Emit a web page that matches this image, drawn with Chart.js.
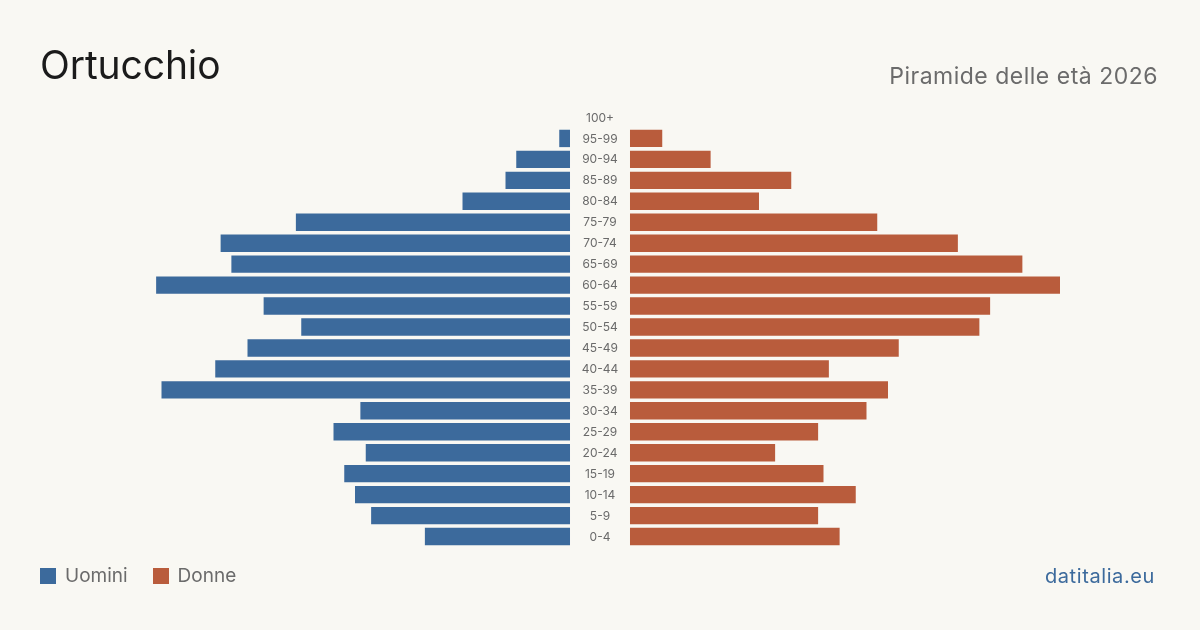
<!DOCTYPE html>
<html><head><meta charset="utf-8">
<script src="https://cdn.jsdelivr.net/npm/chart.js@4/dist/chart.umd.min.js"></script>
<style>
html,body{margin:0;padding:0;background:#f9f8f3;width:1200px;height:630px;overflow:hidden;font-family:Inter,"Noto Sans",sans-serif;}
#wrap{position:relative;width:1200px;height:630px;}
#title{position:absolute;left:40px;top:39px;font-size:39px;color:#1b1b1b;line-height:52px;letter-spacing:-0.1px;}
#sub{position:absolute;right:42px;top:60px;font-size:23px;color:#6b6b6b;line-height:32px;letter-spacing:0.5px;}
#legend{position:absolute;left:40px;top:564px;font-size:19px;color:#6b6b6b;display:flex;align-items:center;line-height:24px;}
.sw{display:inline-block;width:16px;height:16px;margin-right:9px;}
.item{display:flex;align-items:center;margin-right:25px;}
#brand{position:absolute;right:45px;top:564px;font-size:20px;color:#3c6a9c;line-height:24px;letter-spacing:0.6px;}
canvas{position:absolute;left:0;top:0;}
</style></head>
<body><div id="wrap">
<canvas id="c" width="1200" height="630"></canvas>
<div id="title">Ortucchio</div>
<div id="sub">Piramide delle età 2026</div>
<div id="legend"><span class="item"><span class="sw" style="background:#3c6a9c"></span>Uomini</span><span class="item"><span class="sw" style="background:#b95c3c"></span>Donne</span></div>
<div id="brand">datitalia.eu</div>
</div>
<script>
const ageGroups = ["100+","95-99","90-94","85-89","80-84","75-79","70-74","65-69","60-64","55-59","50-54","45-49","40-44","35-39","30-34","25-29","20-24","15-19","10-14","5-9","0-4"];
const men =   [0, 2, 10, 12, 20, 51, 65, 63, 77, 57, 50, 60, 66, 76, 39, 44, 38, 42, 40, 37, 27];
const women = [0, 6, 15, 30, 24, 46, 61, 73, 80, 67, 65, 50, 37, 48, 44, 35, 27, 36, 42, 35, 39];
const GAP = 5.58;      // half-width of the centre label column, in data units
const XMAX = 85.58;

const labelPlugin = {
  id: 'centerLabels',
  afterDatasetsDraw(chart) {
    const ctx = chart.ctx;
    const xs = chart.scales.x, ys = chart.scales.y;
    const cx = xs.getPixelForValue(0);
    ctx.save();
    ctx.font = '12px Inter, "Noto Sans", sans-serif';
    ctx.fillStyle = '#6a6a6a';
    ctx.textAlign = 'center';
    ctx.textBaseline = 'middle';
    ageGroups.forEach((g, i) => ctx.fillText(g, cx, ys.getPixelForValue(i) + 0.5));
    ctx.restore();
  }
};

new Chart(document.getElementById('c'), {
  type: 'bar',
  data: {
    labels: ageGroups,
    datasets: [
      { label: 'Uomini', data: men.map(v => [-GAP - v, -GAP]), backgroundColor: '#3c6a9c', barPercentage: 0.83, categoryPercentage: 1, grouped: false },
      { label: 'Donne', data: women.map(v => [GAP, GAP + v]), backgroundColor: '#b95c3c', barPercentage: 0.83, categoryPercentage: 1, grouped: false }
    ]
  },
  options: {
    indexAxis: 'y',
    responsive: false,
    animation: false,
    layout: { padding: { left: 140, right: 140, top: 107, bottom: 83 } },
    scales: {
      x: { display: false, min: -XMAX, max: XMAX },
      y: { display: false }
    },
    plugins: { legend: { display: false }, tooltip: { enabled: false } }
  },
  plugins: [labelPlugin]
});
</script>
</body></html>
